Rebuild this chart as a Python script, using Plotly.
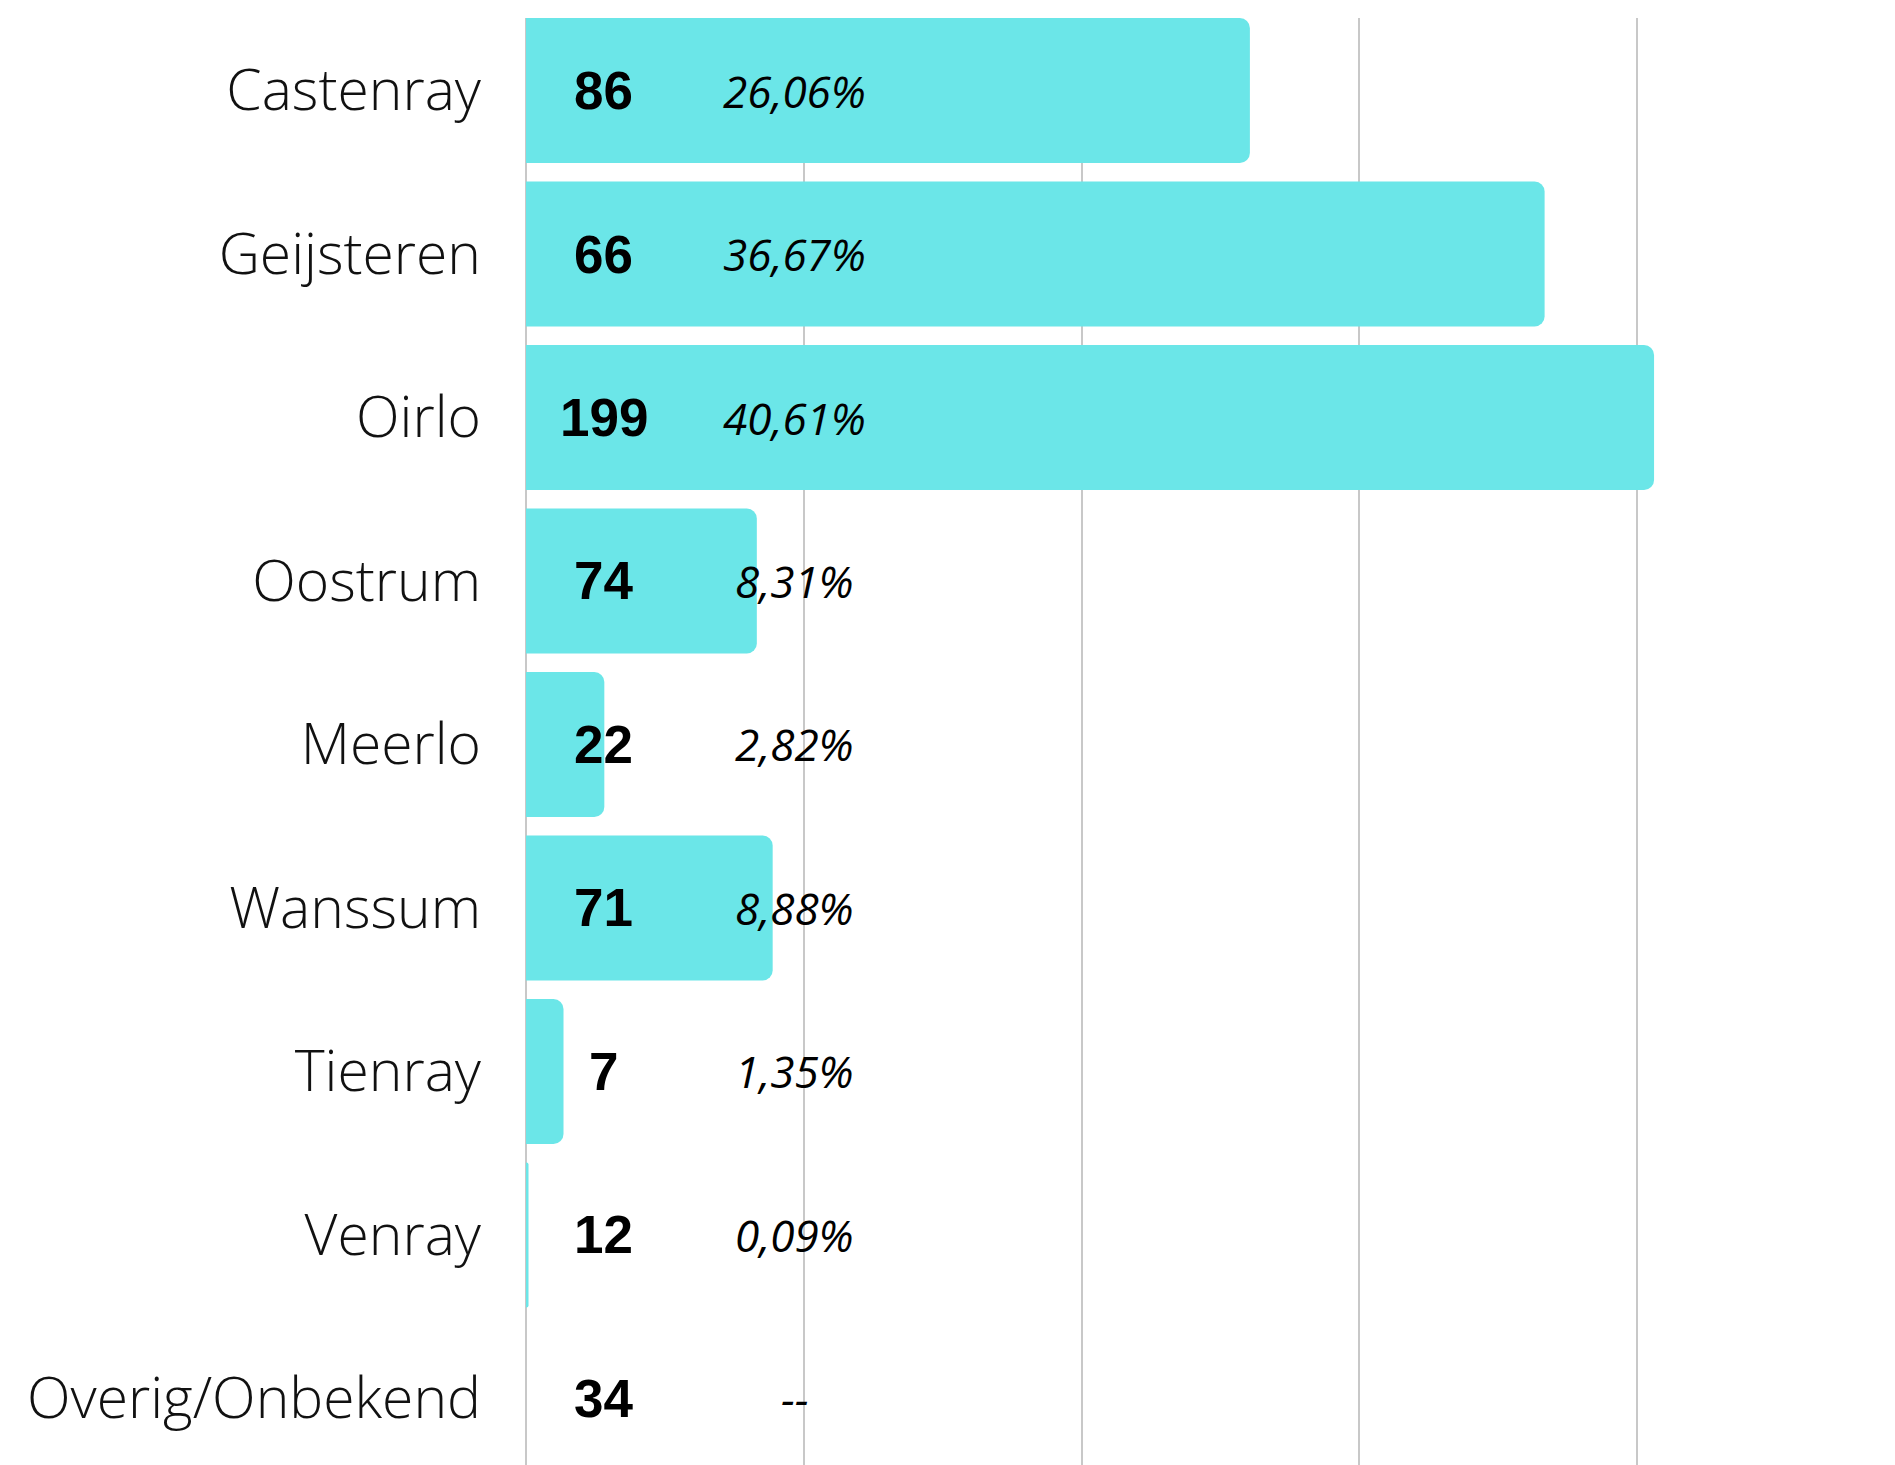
import plotly.graph_objects as go

categories = ["Castenray", "Geijsteren", "Oirlo", "Oostrum", "Meerlo",
              "Wanssum", "Tienray", "Venray", "Overig/Onbekend"]
percentages = [26.06, 36.67, 40.61, 8.31, 2.82, 8.88, 1.35, 0.09, 0.0]
pct_labels = ["26,06%", "36,67%", "40,61%", "8,31%", "2,82%",
              "8,88%", "1,35%", "0,09%", "--"]
counts = [86, 66, 199, 74, 22, 71, 7, 12, 34]
x_ticks = [0, 10, 20, 30, 40]

W, H = 1895, 1465
BODY = 8  # page body margin offset
BAR_COLOR = "#6BE6E8"
X_MAX = 45
PX_PER_UNIT = 27.77
LEFT = 526 - BODY
TOP = 18 - BODY
PLOT_W = X_MAX * PX_PER_UNIT

fig = go.Figure()
fig.add_trace(go.Bar(
    y=categories, x=percentages, orientation="h",
    marker=dict(color=BAR_COLOR, line=dict(width=0), cornerradius=10),
    hoverinfo="skip",
))

annotations = []
for cat, c, p in zip(categories, counts, pct_labels):
    annotations.append(dict(
        x=2.8, y=cat, xref="x", yref="y", text=str(c), showarrow=False,
        xanchor="center", yanchor="middle",
        font=dict(family="Liberation Sans, Arial", size=53, color="black", weight="bold"),
    ))
    annotations.append(dict(
        x=9.68, y=cat, xref="x", yref="y", text=p, showarrow=False,
        xanchor="center", yanchor="middle",
        font=dict(family="Open Sans", size=44, color="black", style="italic"),
    ))

fig.update_layout(
    width=W, height=H,
    margin=dict(l=LEFT, t=TOP, b=BODY, r=W - LEFT - PLOT_W, pad=0),
    paper_bgcolor="white", plot_bgcolor="white",
    bargap=0.113,
    showlegend=False,
    annotations=annotations,
    xaxis=dict(range=[0, X_MAX], tickvals=x_ticks, showticklabels=False,
               showgrid=True, gridcolor="#c8c8c8", gridwidth=1.5,
               zeroline=True, zerolinecolor="#c8c8c8", zerolinewidth=1.5,
               showline=False, fixedrange=True),
    yaxis=dict(categoryorder="array", categoryarray=categories,
               range=[8.407, -0.4435], showgrid=False, zeroline=False,
               showline=False, ticks="", ticklabelstandoff=44,
               tickfont=dict(family="Open Sans", size=57, color="#111111", weight=300)),
)

fig.write_html("out.html")
